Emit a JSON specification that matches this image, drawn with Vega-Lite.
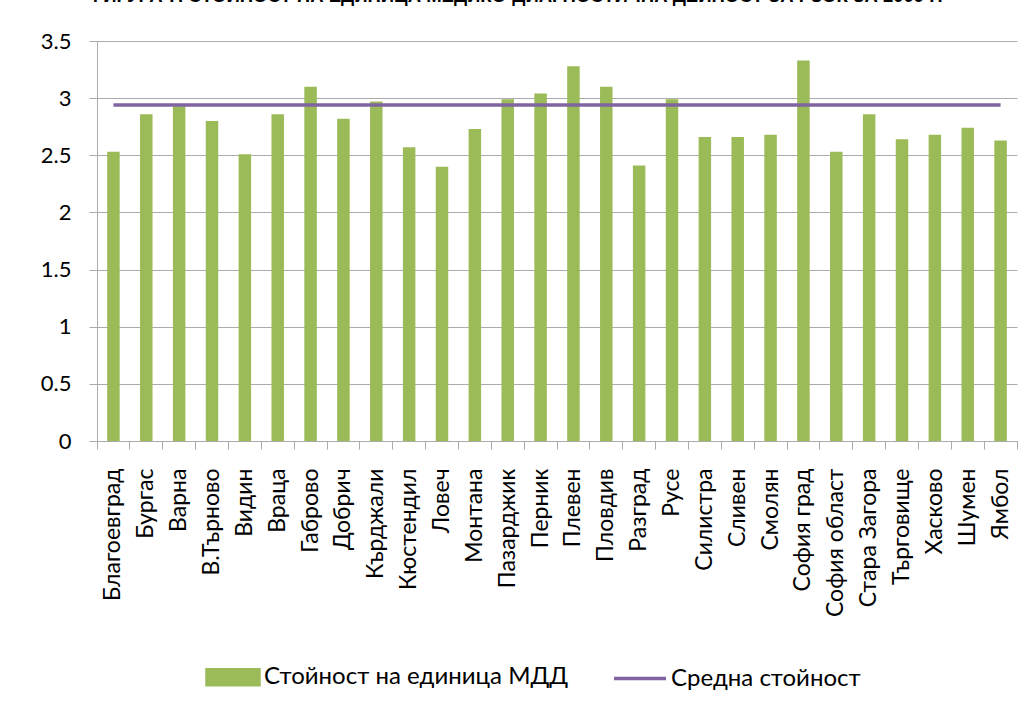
{
  "$schema": "https://vega.github.io/schema/vega-lite/v6.json",
  "width": 920,
  "height": 400,
  "autosize": "none",
  "padding": {"left": 97, "top": 41, "right": 14, "bottom": 263},
  "background": "white",
  "title": {
    "text": "ФИГУРА 7. СТОЙНОСТ НА ЕДИНИЦА МЕДИКО-ДИАГНОСТИЧНА ДЕЙНОСТ ЗА РЗОК ЗА 2009 Г.",
    "anchor": "middle",
    "frame": "group",
    "dx": -42,
    "dy": 10,
    "offset": 20,
    "baseline": "alphabetic",
    "font": "Liberation Sans",
    "fontSize": 18.5,
    "fontWeight": "bold",
    "color": "#000000"
  },
  "data": {
    "values": [
      {"region": "Благоевград", "value": 2.53, "avg": 2.94},
      {"region": "Бургас", "value": 2.86, "avg": 2.94},
      {"region": "Варна", "value": 2.93, "avg": 2.94},
      {"region": "В.Търново", "value": 2.80, "avg": 2.94},
      {"region": "Видин", "value": 2.51, "avg": 2.94},
      {"region": "Враца", "value": 2.86, "avg": 2.94},
      {"region": "Габрово", "value": 3.10, "avg": 2.94},
      {"region": "Добрич", "value": 2.82, "avg": 2.94},
      {"region": "Кърджали", "value": 2.97, "avg": 2.94},
      {"region": "Кюстендил", "value": 2.57, "avg": 2.94},
      {"region": "Ловеч", "value": 2.40, "avg": 2.94},
      {"region": "Монтана", "value": 2.73, "avg": 2.94},
      {"region": "Пазарджик", "value": 2.99, "avg": 2.94},
      {"region": "Перник", "value": 3.04, "avg": 2.94},
      {"region": "Плевен", "value": 3.28, "avg": 2.94},
      {"region": "Пловдив", "value": 3.10, "avg": 2.94},
      {"region": "Разград", "value": 2.41, "avg": 2.94},
      {"region": "Русе", "value": 2.99, "avg": 2.94},
      {"region": "Силистра", "value": 2.66, "avg": 2.94},
      {"region": "Сливен", "value": 2.66, "avg": 2.94},
      {"region": "Смолян", "value": 2.68, "avg": 2.94},
      {"region": "София град", "value": 3.33, "avg": 2.94},
      {"region": "София област", "value": 2.53, "avg": 2.94},
      {"region": "Стара Загора", "value": 2.86, "avg": 2.94},
      {"region": "Търговище", "value": 2.64, "avg": 2.94},
      {"region": "Хасково", "value": 2.68, "avg": 2.94},
      {"region": "Шумен", "value": 2.74, "avg": 2.94},
      {"region": "Ямбол", "value": 2.63, "avg": 2.94}
    ]
  },
  "encoding": {
    "x": {
      "field": "region",
      "type": "nominal",
      "sort": null,
      "scale": {"paddingInner": 0, "paddingOuter": 0},
      "axis": {
        "title": null,
        "labelAngle": -90,
        "labelAlign": "right",
        "labelBaseline": "middle",
        "labelPadding": 19,
        "labelFontSize": 23,
        "tickSize": 8,
        "bandPosition": 1,
        "tickExtra": true,
        "grid": false
      }
    }
  },
  "layer": [
    {
      "mark": {"type": "bar", "width": {"band": 0.38}},
      "encoding": {
        "y": {
          "field": "value",
          "type": "quantitative",
          "scale": {"domain": [0, 3.5], "nice": false},
          "axis": {
            "title": null,
            "values": [0, 0.5, 1, 1.5, 2, 2.5, 3, 3.5],
            "format": "~g",
            "grid": true,
            "tickSize": 8,
            "labelPadding": 18
          }
        },
        "color": {
          "datum": "Стойност на единица МДД",
          "type": "nominal",
          "scale": {
            "domain": ["Стойност на единица МДД", "Средна стойност"],
            "range": ["#9BBB59", "#8064A2"]
          },
          "legend": {
            "title": null,
            "orient": "none",
            "direction": "horizontal",
            "legendX": 108,
            "legendY": 608,
            "padding": 0,
            "symbolSize": 2704,
            "symbolType": "M-1,-0.29H1V0.29H-1Z",
            "labelOffset": 3,
            "labelLimit": 0,
            "columnPadding": 38,
            "labelFontSize": 24,
            "labelFont": "Lato",
            "labelColor": "#000000",
            "encode": {
              "symbols": {
                "update": {
                  "shape": {"signal": "datum.value === 'Средна стойност' ? 'M-1,0H1' : 'M-1,-0.29H1V0.29H-1Z'"},
                  "fill": {"signal": "datum.value === 'Средна стойност' ? 'transparent' : '#9BBB59'"},
                  "stroke": {"signal": "datum.value === 'Средна стойност' ? '#8064A2' : 'transparent'"},
                  "strokeWidth": {"value": 3.5},
                  "opacity": {"value": 1}
                }
              }
            }
          }
        }
      }
    },
    {
      "mark": {"type": "line", "strokeWidth": 3.5},
      "encoding": {
        "y": {"field": "avg", "type": "quantitative"},
        "color": {"datum": "Средна стойност", "type": "nominal"}
      }
    }
  ],
  "config": {
    "view": {"stroke": null},
    "axis": {
      "labelFont": "Lato",
      "labelFontSize": 22,
      "labelColor": "#000000",
      "domainColor": "#ababab",
      "tickColor": "#ababab",
      "gridColor": "#ababab",
      "domainWidth": 1,
      "tickWidth": 1,
      "gridWidth": 1
    }
  }
}
